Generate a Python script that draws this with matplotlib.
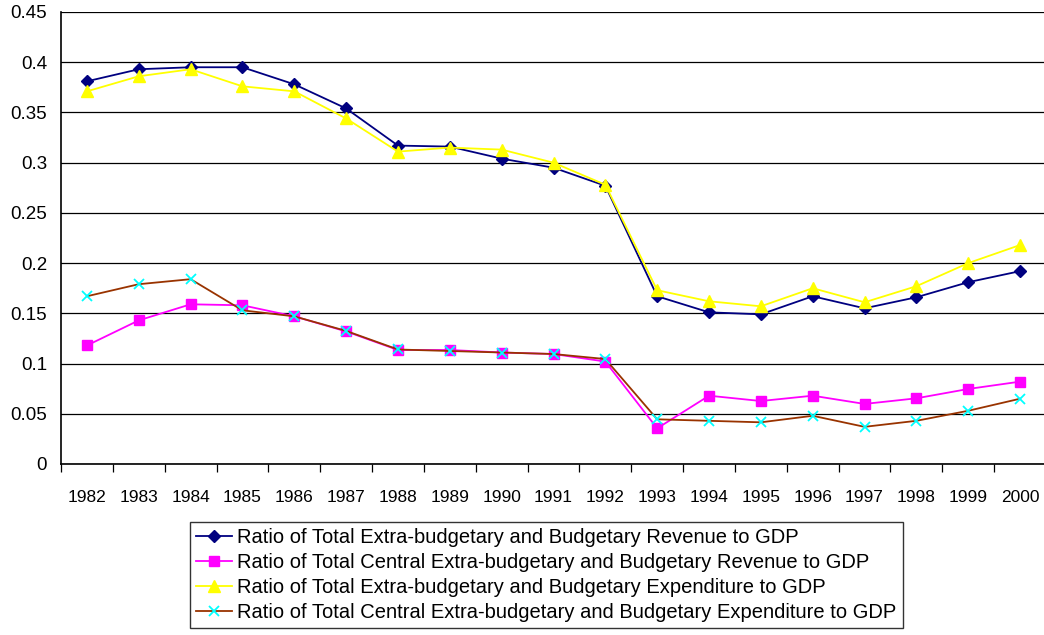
import matplotlib
matplotlib.use("Agg")
import matplotlib.pyplot as plt
import numpy as np

years = ["1982", "1983", "1984", "1985", "1986", "1987", "1988", "1989", "1990", "1991",
         "1992", "1993", "1994", "1995", "1996", "1997", "1998", "1999", "2000"]

total_revenue = [0.381, 0.393, 0.395, 0.395, 0.378, 0.354, 0.317, 0.316, 0.304, 0.295,
                 0.277, 0.167, 0.151, 0.149, 0.167, 0.155, 0.166, 0.181, 0.192]
central_revenue = [0.118, 0.143, 0.159, 0.158, 0.147, 0.132, 0.1135, 0.1135, 0.111, 0.1095,
                   0.102, 0.0355, 0.068, 0.0627, 0.068, 0.0598, 0.0654, 0.0747, 0.082]
total_expenditure = [0.371, 0.386, 0.393, 0.376, 0.371, 0.344, 0.311, 0.315, 0.313, 0.300,
                     0.278, 0.173, 0.162, 0.157, 0.175, 0.161, 0.177, 0.200, 0.218]
central_expenditure = [0.167, 0.179, 0.184, 0.153, 0.147, 0.1325, 0.114, 0.1125, 0.111, 0.1095,
                       0.1045, 0.0445, 0.043, 0.0415, 0.048, 0.037, 0.043, 0.053, 0.065]

labels = [
    "Ratio of Total Extra-budgetary and Budgetary Revenue to GDP",
    "Ratio of Total Central Extra-budgetary and Budgetary Revenue to GDP",
    "Ratio of Total Extra-budgetary and Budgetary Expenditure to GDP",
    "Ratio of Total Central Extra-budgetary and Budgetary Expenditure to GDP",
]
y_ticks = [0, 0.05, 0.1, 0.15, 0.2, 0.25, 0.3, 0.35, 0.4, 0.45]
y_ticklabels = ["0", "0.05", "0.1", "0.15", "0.2", "0.25", "0.3", "0.35", "0.4", "0.45"]

plt.rcParams['font.family'] = ['Liberation Sans', 'DejaVu Sans']

W, H = 1044, 635
fig = plt.figure(figsize=(W / 100, H / 100), dpi=100)
ax = fig.add_axes([61 / W, 1 - 464 / H, (1046 - 61) / W, (464 - 12) / H])

x = np.arange(len(years))
l1, = ax.plot(x, total_revenue, color="#000080", lw=1.3, marker="D", ms=6.5,
              mfc="#000080", mec="#000080")
l2, = ax.plot(x, central_revenue, color="#FF00FF", lw=1.3, marker="s", ms=7,
              mfc="#FF00FF", mec="#FF00FF")
l3, = ax.plot(x, total_expenditure, color="#FFFF00", lw=1.3, marker="^", ms=8,
              mfc="#FFFF00", mec="#FFFF00")
l4, = ax.plot(x, central_expenditure, color="#993300", lw=1.3, marker="x", ms=7,
              mfc="#00FFFF", mec="#00FFFF", mew=1.3)

ax.set_xlim(-0.5, len(years) - 0.5)
ax.set_ylim(0, 0.45)
ax.set_yticks(y_ticks)
ax.set_yticklabels(y_ticklabels, fontsize=13.5)
ax.yaxis.grid(True, color="black", lw=0.9)
ax.set_axisbelow(True)

ax.set_xticks(x)
ax.set_xticklabels(years, fontsize=12.5)
ax.set_xticks(np.arange(len(years) + 1) - 0.5, minor=True)
ax.tick_params(axis="x", which="major", length=0, pad=19)
ax.tick_params(axis="x", which="minor", length=6, width=0.9, color="black", direction="out")
ax.tick_params(axis="y", length=0, pad=10)

for s in ["top", "right"]:
    ax.spines[s].set_visible(False)
for s in ["left", "bottom"]:
    ax.spines[s].set_color("black")
    ax.spines[s].set_linewidth(1.2)

leg = fig.legend([l1, l2, l3, l4], labels, loc="upper left",
                 bbox_to_anchor=(190 / W, 1 - 522 / H), fontsize=14.5,
                 frameon=True, fancybox=False, edgecolor="black",
                 handlelength=1.8, handletextpad=0.25, borderpad=0.3,
                 labelspacing=0.3, borderaxespad=0)
leg.get_frame().set_linewidth(1.0)

fig.savefig("out.png", dpi=100)
